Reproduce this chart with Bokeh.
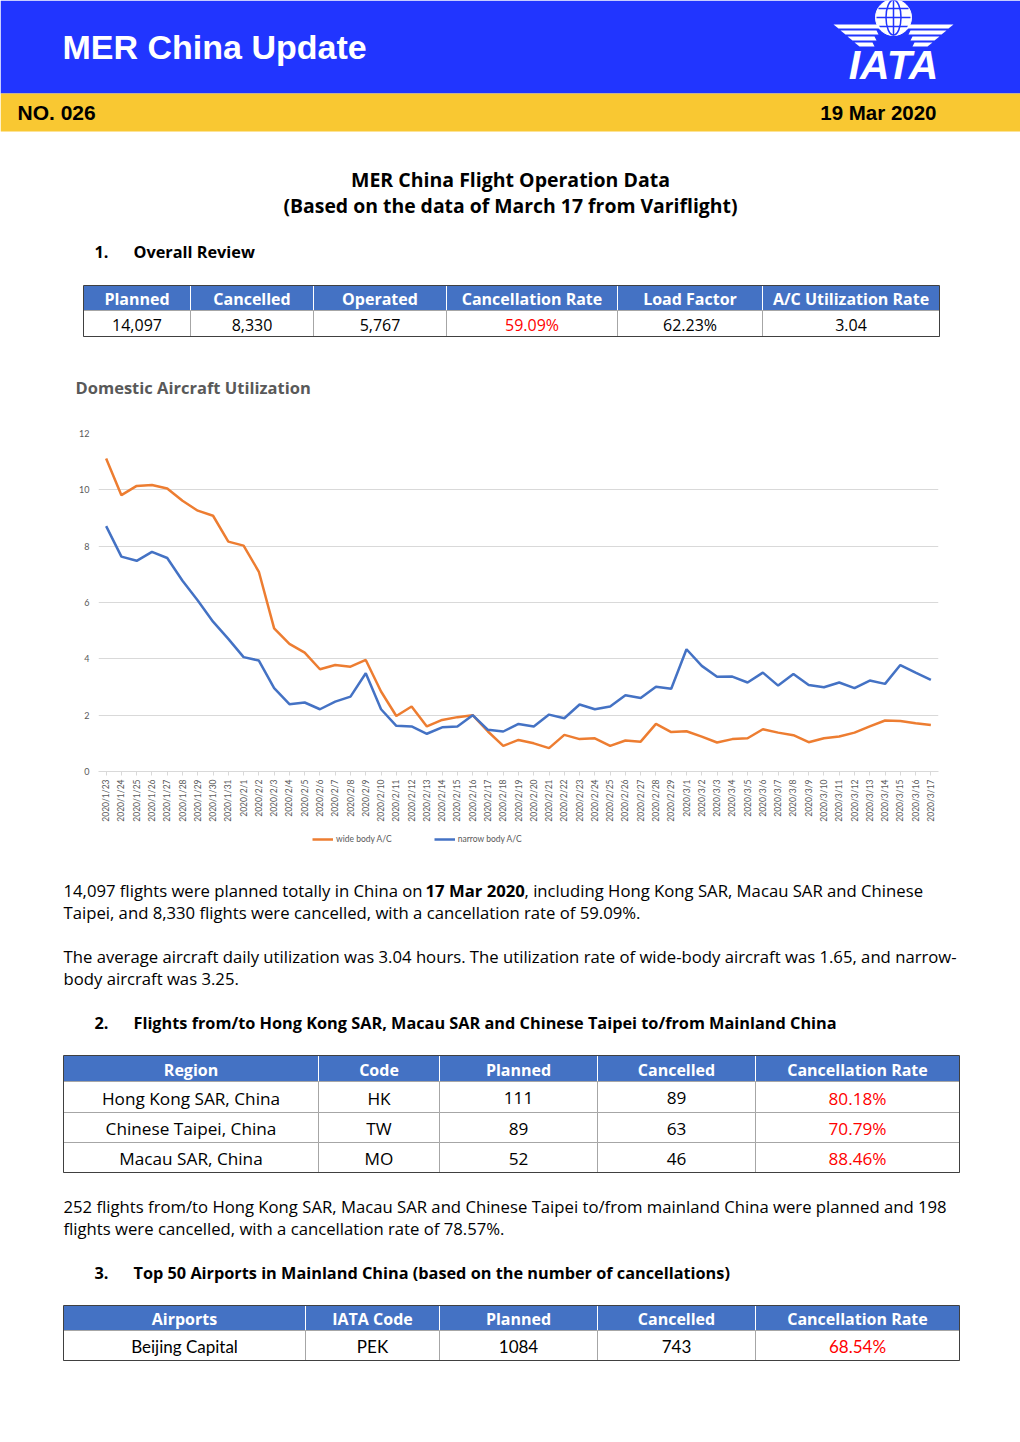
import math
from bokeh.plotting import figure
from bokeh.models import Range1d, FactorRange, Legend, LegendItem, FixedTicker
from bokeh.layouts import column
from bokeh.core.properties import value
from bokeh.embed import file_html
from bokeh.resources import INLINE

# ---------------- data ----------------
dates = ["2020/1/23", "2020/1/24", "2020/1/25", "2020/1/26", "2020/1/27", "2020/1/28",
         "2020/1/29", "2020/1/30", "2020/1/31", "2020/2/1", "2020/2/2", "2020/2/3",
         "2020/2/4", "2020/2/5", "2020/2/6", "2020/2/7", "2020/2/8", "2020/2/9",
         "2020/2/10", "2020/2/11", "2020/2/12", "2020/2/13", "2020/2/14", "2020/2/15",
         "2020/2/16", "2020/2/17", "2020/2/18", "2020/2/19", "2020/2/20", "2020/2/21",
         "2020/2/22", "2020/2/23", "2020/2/24", "2020/2/25", "2020/2/26", "2020/2/27",
         "2020/2/28", "2020/2/29", "2020/3/1", "2020/3/2", "2020/3/3", "2020/3/4",
         "2020/3/5", "2020/3/6", "2020/3/7", "2020/3/8", "2020/3/9", "2020/3/10",
         "2020/3/11", "2020/3/12", "2020/3/13", "2020/3/14", "2020/3/15", "2020/3/16",
         "2020/3/17"]
wide_body = [11.11, 9.81, 10.14, 10.17, 10.05, 9.61, 9.26, 9.08, 8.16, 8.02, 7.09, 5.08,
             4.53, 4.22, 3.63, 3.78, 3.72, 3.96, 2.84, 1.97, 2.31, 1.60, 1.83, 1.93,
             2.00, 1.42, 0.91, 1.12, 1.00, 0.83, 1.30, 1.15, 1.18, 0.91, 1.10, 1.06,
             1.69, 1.40, 1.43, 1.24, 1.03, 1.15, 1.18, 1.50, 1.38, 1.29, 1.04, 1.18,
             1.24, 1.38, 1.60, 1.81, 1.79, 1.71, 1.65]
narrow_body = [8.71, 7.63, 7.48, 7.80, 7.58, 6.77, 6.07, 5.32, 4.71, 4.06, 3.94, 2.96,
               2.39, 2.45, 2.21, 2.48, 2.66, 3.49, 2.21, 1.62, 1.60, 1.34, 1.57, 1.60,
               2.00, 1.48, 1.42, 1.69, 1.60, 2.02, 1.89, 2.38, 2.21, 2.31, 2.71, 2.61,
               3.01, 2.94, 4.34, 3.75, 3.36, 3.37, 3.16, 3.51, 3.05, 3.46, 3.07, 2.99,
               3.16, 2.96, 3.23, 3.11, 3.78, 3.51, 3.25]
y_ticks = [0, 2, 4, 6, 8, 10, 12]
series_names = ["wide body A/C", "narrow body A/C"]

overall_header = ["Planned", "Cancelled", "Operated", "Cancellation Rate", "Load Factor", "A/C Utilization Rate"]
overall_values = ["14,097", "8,330", "5,767", "59.09%", "62.23%", "3.04"]

region_header = ["Region", "Code", "Planned", "Cancelled", "Cancellation Rate"]
region_names = ["Hong Kong SAR, China", "Chinese Taipei, China", "Macau SAR, China"]
region_codes = ["HK", "TW", "MO"]
region_planned = ["111", "89", "52"]
region_cancelled = ["89", "63", "46"]
region_rate = ["80.18%", "70.79%", "88.46%"]

airport_header = ["Airports", "IATA Code", "Planned", "Cancelled", "Cancellation Rate"]
airport_names = ["Beijing Capital"]
airport_codes = ["PEK"]
airport_planned = ["1084"]
airport_cancelled = ["743"]
airport_rate = ["68.54%"]

# ---------------- styles ----------------
BLUE_HDR = "#2135FF"
YELLOW = "#F9C832"
TBL_BLUE = "#4472C4"
ORANGE = "#ED7D31"
LINE_BLUE = "#4472C4"
RED = "#FF0000"
BODY = "Open Sans"
HEAD = "Liberation Sans"
PARA = "16.7px"
SECT = "16.3px"
W = 1020
CHART_TOP, CHART_BOTTOM, PAGE_BOTTOM = 400, 826, 1442


def page_fig(y0, y1):
    f = figure(width=W, height=int(y1 - y0), x_range=Range1d(0, W), y_range=Range1d(y1, y0),
               output_backend="svg", toolbar_location=None, min_border=0,
               x_axis_location=None, y_axis_location=None)
    f.grid.visible = False
    f.outline_line_color = None
    return f


def txt(f, x, y, s, size="16px", font=BODY, style="normal", color="black", align="left"):
    f.text(x=[x], y=[y], text=[s], text_font=value(font), text_font_size=size,
           text_font_style=style, text_color=color, text_align=align, text_baseline="middle")


def table(f, edges, row_edges, header, columns, red_cols, body_font=BODY, body_size="16px",
          hdr_sep="#FFFFFF", grid="#A6A6A6"):
    for i, h in enumerate(header):
        f.quad(left=[edges[i]], right=[edges[i + 1]], top=[row_edges[0]], bottom=[row_edges[1]],
               fill_color=TBL_BLUE, line_color=hdr_sep, line_width=1)
        txt(f, (edges[i] + edges[i + 1]) / 2, (row_edges[0] + row_edges[1]) / 2 + 1, h,
            style="bold", color="white", align="center", size="16px")
    for r in range(len(row_edges) - 2):
        for c, col in enumerate(columns):
            f.quad(left=[edges[c]], right=[edges[c + 1]], top=[row_edges[r + 1]], bottom=[row_edges[r + 2]],
                   fill_color="white", line_color=grid, line_width=1)
            txt(f, (edges[c] + edges[c + 1]) / 2, (row_edges[r + 1] + row_edges[r + 2]) / 2 + 1, col[r],
                color=RED if c in red_cols else "black", align="center", font=body_font, size=body_size)
    f.quad(left=[edges[0]], right=[edges[-1]], top=[row_edges[0]], bottom=[row_edges[-1]],
           fill_color=None, line_color="#404040", line_width=1)


# ---------------- top page part ----------------
top = page_fig(0, CHART_TOP)
top.quad(left=[0], right=[W], top=[0], bottom=[93], fill_color=BLUE_HDR, line_color=None)
top.quad(left=[0], right=[W], top=[93], bottom=[131], fill_color=YELLOW, line_color=None)
txt(top, 62, 46, "MER China Update", size="34px", font=HEAD, style="bold", color="white")
txt(top, 17, 112, "NO. 026", size="21px", font=HEAD, style="bold")
txt(top, 936, 112, "19 Mar 2020", size="20.5px", font=HEAD, style="bold", align="right")

# IATA logo
top.circle(x=[893], y=[17], radius=18, fill_color="white", line_color="white")
top.ellipse(x=[893], y=[17], width=15, height=35, fill_color=None, line_color=BLUE_HDR, line_width=1.5)
top.segment(x0=[893, 876, 878, 878], y0=[0, 17, 8, 26], x1=[893, 910, 908, 908], y1=[35, 17, 8, 26],
            line_color=BLUE_HDR, line_width=1.5)
for k in range(4):
    ya, yb = 24 + 6 * k, 28 + 6 * k
    top.patch(x=[833 + 7 * k, 878 - 2 * k, 880 - 2 * k, 838 + 7 * k], y=[ya, ya, yb, yb],
              fill_color="white", line_color=None)
    top.patch(x=[953 - 7 * k, 908 + 2 * k, 906 + 2 * k, 948 - 7 * k], y=[ya, ya, yb, yb],
              fill_color="white", line_color=None)
txt(top, 893, 64, "IATA", size="41px", font=HEAD, style="bold italic", color="white", align="center")

txt(top, 510, 179, "MER China Flight Operation Data", size="19.5px", style="bold", align="center")
txt(top, 510, 205, "(Based on the data of March 17 from Variflight)", size="19.4px", style="bold", align="center")
txt(top, 94, 251, "1.", style="bold", size=SECT)
txt(top, 133, 251, "Overall Review", style="bold", size=SECT)

table(top, [83, 190, 313, 446, 617, 762, 939], [285, 310, 336], overall_header,
      [[v] for v in overall_values], red_cols=[3])

txt(top, 75, 387, "Domestic Aircraft Utilization", size="16.5px", font="Open Sans", style="bold", color="#595959")

# ---------------- chart ----------------
p = figure(width=W, height=CHART_BOTTOM - CHART_TOP, x_range=FactorRange(factors=dates), y_range=Range1d(0, 12),
           output_backend="svg", toolbar_location=None,
           min_border_left=98, min_border_right=82, min_border_top=33, min_border_bottom=55)
p.outline_line_color = None
p.xgrid.visible = False
p.ygrid.grid_line_color = "#D9D9D9"
p.yaxis.ticker = FixedTicker(ticks=y_ticks)
p.yaxis.axis_line_color = None
p.yaxis.major_tick_line_color = None
p.yaxis.major_tick_out = 0
p.yaxis.minor_tick_line_color = None
p.yaxis.minor_tick_out = 0
p.yaxis.major_label_text_font_size = "9px"
p.yaxis.major_label_text_color = "#595959"
p.yaxis.major_label_text_font = "Lato"
p.yaxis.major_label_standoff = 9
p.xaxis.axis_line_color = "#D9D9D9"
p.xaxis.major_tick_line_color = "#D9D9D9"
p.xaxis.major_tick_out = 4
p.xaxis.major_tick_in = 0
p.xaxis.major_label_orientation = math.pi / 2
p.xaxis.major_label_text_font_size = "8.5px"
p.xaxis.major_label_text_color = "#595959"
p.xaxis.major_label_text_font = "Lato"
p.xaxis.major_label_standoff = 4

p.line(x=dates, y=wide_body, line_color=ORANGE, line_width=2.5)
p.line(x=dates, y=narrow_body, line_color=LINE_BLUE, line_width=2.5)

# ---------------- bottom page part ----------------
bot = page_fig(CHART_BOTTOM, PAGE_BOTTOM)

# legend of the chart (sits just under the chart's date labels); proxies lie off-canvas
k1 = bot.line(x=[-50, -40], y=[-50, -50], line_color=ORANGE, line_width=2.5)
k2 = bot.line(x=[-50, -40], y=[-50, -50], line_color=LINE_BLUE, line_width=2.5)
legend = Legend(items=[LegendItem(label=series_names[0], renderers=[k1]),
                       LegendItem(label=series_names[1], renderers=[k2])],
                orientation="horizontal", location=(310, PAGE_BOTTOM - 846), border_line_alpha=0,
                background_fill_alpha=0, label_text_font_size="8.5px", label_text_color="#595959",
                label_text_font="Lato", glyph_width=21, glyph_height=10, label_standoff=3,
                spacing=42, padding=2, margin=0)
bot.add_layout(legend, "center")

txt(bot, 63, 890, "14,097 flights were planned totally in China on", size=PARA)
txt(bot, 425, 890, "17 Mar 2020", style="bold", size=PARA)
txt(bot, 524, 890, ", including Hong Kong SAR, Macau SAR and Chinese", size=PARA)
txt(bot, 63, 912, "Taipei, and 8,330 flights were cancelled, with a cancellation rate of 59.09%.", size=PARA)
txt(bot, 63, 956, "The average aircraft daily utilization was 3.04 hours. The utilization rate of wide-body aircraft was 1.65, and narrow-", size=PARA)
txt(bot, 63, 978, "body aircraft was 3.25.", size=PARA)
txt(bot, 94, 1022, "2.", style="bold", size=SECT)
txt(bot, 133, 1022, "Flights from/to Hong Kong SAR, Macau SAR and Chinese Taipei to/from Mainland China", style="bold", size=SECT)

table(bot, [63, 318, 439, 597, 755, 959], [1055, 1081, 1112, 1142, 1172], region_header,
      [region_names, region_codes, region_planned, region_cancelled, region_rate], red_cols=[4],
      body_size="17.2px")

txt(bot, 63, 1206, "252 flights from/to Hong Kong SAR, Macau SAR and Chinese Taipei to/from mainland China were planned and 198", size=PARA)
txt(bot, 63, 1228, "flights were cancelled, with a cancellation rate of 78.57%.", size=PARA)
txt(bot, 94, 1272, "3.", style="bold", size=SECT)
txt(bot, 133, 1272, "Top 50 Airports in Mainland China (based on the number of cancellations)", style="bold", size=SECT)

table(bot, [63, 305, 439, 597, 755, 959], [1305, 1330, 1360], airport_header,
      [airport_names, airport_codes, airport_planned, airport_cancelled, airport_rate], red_cols=[4],
      body_font="Lato", body_size="17px")

page = column(column(top), column(p), column(bot), spacing=0)
open("out.html", "w").write(file_html(page, INLINE))
